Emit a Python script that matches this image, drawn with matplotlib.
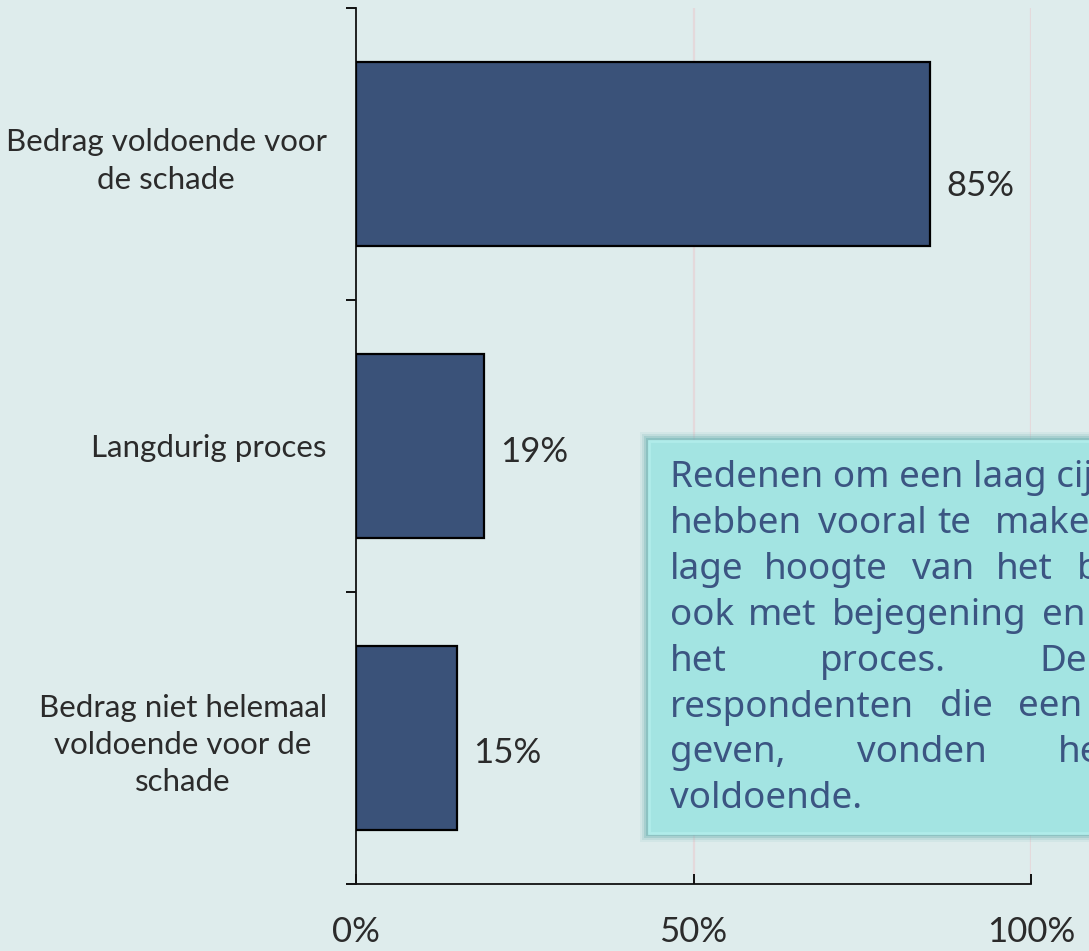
import matplotlib
matplotlib.use('Agg')
import matplotlib.pyplot as plt
from matplotlib.patches import Rectangle
from matplotlib.ticker import FixedLocator, PercentFormatter

categories = ['Bedrag voldoende voor\nde schade',
              'Langdurig proces',
              'Bedrag niet helemaal\nvoldoende voor de\nschade']
values = [85, 19, 15]
value_labels = ['85%', '19%', '15%']
x_ticks = [0, 50, 100]

# the note runs off the right edge in the original, only the visible part is kept
note_lines = [
    ['Redenen om een laag cijfer'],
    ['hebben', 'vooral', 'te', 'maken'],
    ['lage', 'hoogte', 'van', 'het', 'bedrag,'],
    ['ook', 'met', 'bejegening', 'en'],
    ['het', 'proces.', 'De'],
    ['respondenten', 'die', 'een'],
    ['geven,', 'vonden', 'het'],
    ['voldoende.'],
]
# word start positions (pixels) for the justified text
note_x = [
    [670],
    [670, 818, 937, 995],
    [670, 764, 912, 996, 1077],
    [670, 748, 832, 1042],
    [670, 820, 1039],
    [670, 940, 1018],
    [670, 857, 1058],
    [670],
]

W, H = 1089, 951
BG = '#deecec'
BAR = '#3a5279'
TXT = '#2b2b2b'
NOTE = '#3b5582'


def px(x, y):
    return x / W, 1 - y / H


fig = plt.figure(figsize=(W / 100, H / 100), dpi=100, facecolor=BG)
l, b = px(356, 884)
r, t = px(1031, 8)
ax = fig.add_axes([l, b, r - l, t - b], facecolor=BG)

ypos = [2, 1, 0]
ax.barh(ypos, values, height=0.627, color=BAR, edgecolor='black', linewidth=1.6, zorder=3)

ax.set_xlim(0, 100)
ax.set_ylim(-0.5, 2.5)
for xv in [50, 100]:
    ax.axvline(xv, color='#e4d9db', lw=1.6, zorder=1)

ax.spines['top'].set_visible(False)
ax.spines['right'].set_visible(False)
for s in ['left', 'bottom']:
    ax.spines[s].set_linewidth(1.3)
    ax.spines[s].set_color('#111111')

ax.yaxis.set_major_locator(FixedLocator([-0.5, 0.5, 1.5, 2.5]))
ax.yaxis.set_major_formatter(plt.NullFormatter())
ax.yaxis.set_minor_locator(FixedLocator(ypos))
ax.set_yticklabels(categories, minor=True)
ax.tick_params(axis='y', which='major', direction='out', length=7.5, width=1.3)
ax.tick_params(axis='y', which='minor', length=0, pad=21)
for lab in ax.get_yticklabels(minor=True):
    lab.set_fontsize(22.5)
    lab.set_family('Lato')
    lab.set_color(TXT)
    lab.set_multialignment('center')
    lab.set_linespacing(1.4)

ax.set_xticks(x_ticks)
ax.xaxis.set_major_formatter(PercentFormatter(decimals=0))
ax.tick_params(axis='x', direction='in', length=7, width=1.3, pad=23, labelsize=25, labelcolor=TXT)
for lab in ax.get_xticklabels():
    lab.set_family('Lato')

dys = [0.11, 0.02, 0.05]
for y, v, s, dy in zip(ypos, values, value_labels, dys):
    ax.text(v + 2.4, y - dy, s, va='center', ha='left', fontsize=25, family='Lato', color=TXT)

# note box with soft shadow
x0, y0 = px(649, 833)
x1, y1 = px(1300, 441)
for i, a in enumerate([0.10, 0.18, 0.30, 0.45]):
    g = (9 - 2 * i)
    gx, gy = g / W, g / H
    fig.add_artist(Rectangle((x0 - gx, y0 - gy), x1 - x0 + 2 * gx, y1 - y0 + 2 * gy,
                             transform=fig.transFigure, facecolor='#6fb3b4', alpha=a,
                             edgecolor='none', zorder=5))
fig.add_artist(Rectangle((x0, y0), x1 - x0, y1 - y0, transform=fig.transFigure,
                         facecolor='#a3e4e2', edgecolor='#b0ecea', linewidth=2, zorder=6))

for i, (words, xs) in enumerate(zip(note_lines, note_x)):
    base = 487 + i * 45.9
    for w, xp in zip(words, xs):
        fx, fy = px(xp, base)
        fig.text(fx, fy, w, ha='left', va='baseline', fontsize=26.5, family='Noto Sans',
                 color=NOTE, zorder=7)

fig.savefig('out.png', dpi=100, facecolor=BG)
